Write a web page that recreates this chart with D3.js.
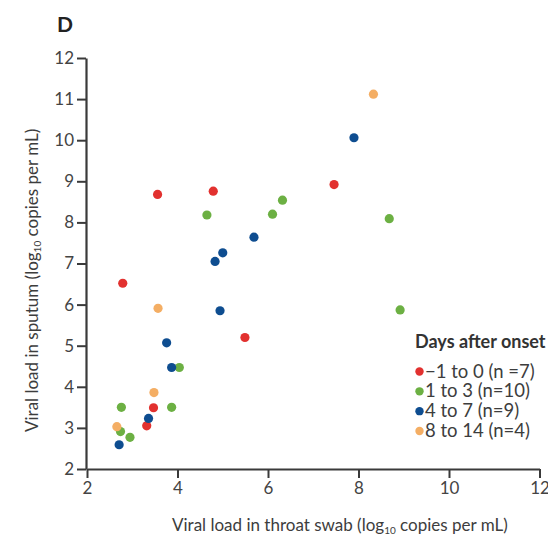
<!DOCTYPE html>
<html>
<head>
<meta charset="utf-8">
<script src="https://cdn.jsdelivr.net/npm/d3@7"></script>
<style>
  html, body { margin: 0; padding: 0; background: #fff; }
  svg { display: block; }
  text { font-family: Lato, "Open Sans", sans-serif; fill: #3d3d3d; }
</style>
</head>
<body>
<div id="chart"></div>
<script>
// Viral load pairs (log10 copies per mL): throat swab (x) vs sputum (y)
const groups = ["-1to0", "1to3", "4to7", "8to14"];
const groupLabels = ["\u22121 to 0 (n =7)", "1 to 3 (n=10)", "4 to 7 (n=9)", "8 to 14 (n=4)"];
const groupColors = ["#e2312f", "#6cb043", "#0e4d90", "#f4ae64"];

const throatEarly = [3.56, 4.79, 2.79, 7.46, 5.49, 3.47, 3.32];
const sputumEarly = [8.68, 8.76, 6.52, 8.92, 5.20, 3.49, 3.05];

const throatDay1to3 = [2.76, 2.74, 2.95, 3.87, 4.04, 4.65, 6.10, 6.32, 8.68, 8.92];
const sputumDay1to3 = [3.50, 2.91, 2.77, 3.50, 4.47, 8.18, 8.20, 8.54, 8.09, 5.87];

const throatDay4to7 = [2.71, 3.36, 3.87, 3.76, 4.83, 5.00, 4.94, 5.69, 7.90];
const sputumDay4to7 = [2.59, 3.23, 4.47, 5.07, 7.05, 7.26, 5.85, 7.64, 10.06];

const throatDay8to14 = [2.66, 3.48, 3.57, 8.33];
const sputumDay8to14 = [3.03, 3.86, 5.91, 11.12];

const xTicks = [2, 4, 6, 8, 10, 12];
const yTicks = [2, 3, 4, 5, 6, 7, 8, 9, 10, 11, 12];

const seriesX = [throatEarly, throatDay1to3, throatDay4to7, throatDay8to14];
const seriesY = [sputumEarly, sputumDay1to3, sputumDay4to7, sputumDay8to14];
const points = [];
groups.forEach((g, i) => {
  seriesX[i].forEach((xv, j) => points.push({ group: i, x: xv, y: seriesY[i][j] }));
});

const W = 548, H = 544;
const svg = d3.select("#chart").append("svg").attr("width", W).attr("height", H);

const x = d3.scaleLinear().domain([2, 12]).range([87, 539.5]);
const y = d3.scaleLinear().domain([2, 12]).range([469, 58]);

// Panel letter
svg.append("text").attr("x", 57).attr("y", 32)
  .style("font-size", "21px").style("font-weight", "bold").style("fill", "#222")
  .text("D");

// Axes
const axisStroke = "#3a3a3a";
const xAxis = svg.append("g").attr("transform", `translate(0,${y(2)})`)
  .call(d3.axisBottom(x).tickValues(xTicks).tickFormat(d3.format("d")).tickSize(9).tickSizeOuter(0).tickPadding(4));
const yAxis = svg.append("g").attr("transform", `translate(${x(2) - 1},0)`)
  .call(d3.axisLeft(y).tickValues(yTicks).tickFormat(d3.format("d")).tickSize(9).tickSizeOuter(0).tickPadding(3));

[xAxis, yAxis].forEach(a => {
  a.select(".domain").attr("stroke", axisStroke).attr("stroke-width", 2.2);
  a.selectAll(".tick line").attr("stroke", axisStroke).attr("stroke-width", 2);
  a.selectAll(".tick text").style("font-family", "Lato, 'Open Sans', sans-serif")
    .style("font-size", "17px").style("fill", "#444");
});

// Axis titles
const xTitle = svg.append("text").attr("x", 172).attr("y", 531)
  .style("font-size", "17px").style("fill", "#3d3d3d");
xTitle.append("tspan").text("Viral load in throat swab (log");
xTitle.append("tspan").attr("dy", 3).style("font-size", "10px").text("10");
xTitle.append("tspan").attr("dy", -3).text(" copies per mL)");

const yTitle = svg.append("text")
  .attr("transform", `translate(38,432) rotate(-90)`)
  .style("font-size", "17px").style("fill", "#3d3d3d");
yTitle.append("tspan").text("Viral load in sputum (log");
yTitle.append("tspan").attr("dy", 3).style("font-size", "10px").text("10");
yTitle.append("tspan").attr("dy", -3).text(" copies per mL)");

// Points
svg.append("g").selectAll("circle").data(points).join("circle")
  .attr("cx", d => x(d.x)).attr("cy", d => y(d.y)).attr("r", 4.6)
  .attr("fill", d => groupColors[d.group]);

// Legend
const legend = svg.append("g");
legend.append("text").attr("x", 415).attr("y", 348)
  .style("font-size", "18px").style("font-weight", "bold").style("fill", "#333")
  .text("Days after onset");
const rowY = d3.scalePoint().domain(groups).range([371.5, 431]);
groups.forEach((g, i) => {
  legend.append("circle").attr("cx", 419.5).attr("cy", rowY(g)).attr("r", 4.2).attr("fill", groupColors[i]);
  legend.append("text").attr("x", 425).attr("y", rowY(g) + 6)
    .style("font-size", "18.5px").style("fill", "#3d3d3d").text(groupLabels[i]);
});
</script>
</body>
</html>
